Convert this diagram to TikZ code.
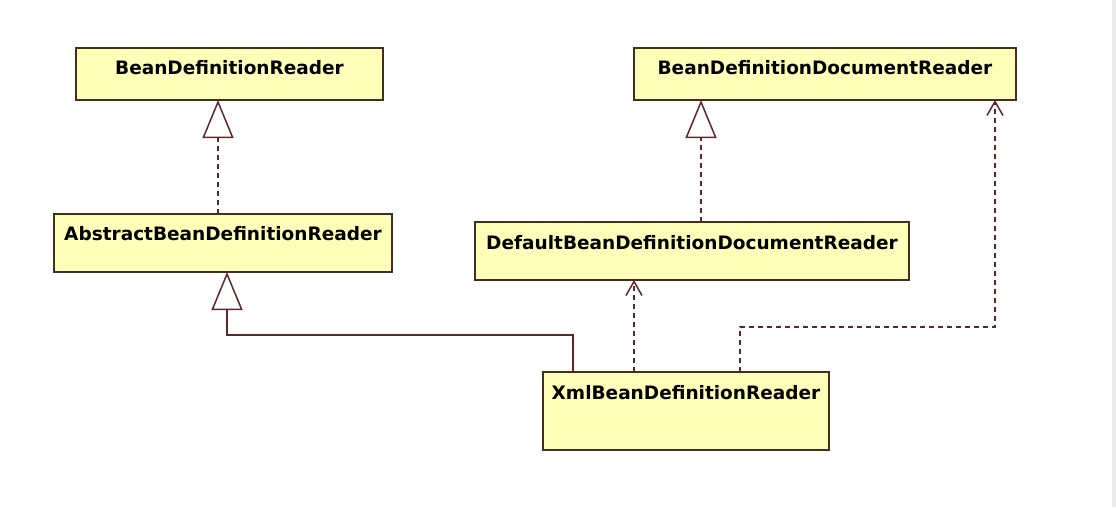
\documentclass[tikz,border=0pt]{standalone}
\usepackage{fontspec}
\setmainfont{DejaVu Sans}
\usepackage[dvipsnames]{xcolor}
\usepackage{tikz}
\usetikzlibrary{arrows.meta}
\definecolor{classfill}{RGB}{255,255,185}
\definecolor{classline}{RGB}{70,45,30}
\definecolor{linkline}{RGB}{95,40,40}

\begin{document}
\begin{tikzpicture}[x=1pt, y=-1pt,
            classbox/.style={draw=classline, fill=classfill, line width=2pt, inner sep=0pt, outer sep=0pt, anchor=north west, font=\fontsize{18.5}{20}\selectfont\bfseries},
            realize/.style={draw=linkline, line width=1.5pt, dash pattern=on 5pt off 4pt, -{Triangle[open, length=38pt, width=31pt, fill=white]}},
            inherit/.style={draw=linkline, line width=1.5pt, -{Triangle[open, length=38pt, width=31pt, fill=white]}},
            depend/.style={draw=linkline, line width=1.5pt, dash pattern=on 5pt off 4pt, -{Straight Barb[length=14pt, width=16pt]}}]
            \useasboundingbox (0,0) rectangle (1116,507);
            \fill[black!8] (1112,0) rectangle (1116,507);
            \node[classbox, minimum width=307pt, text height=26pt, text depth=26pt] (bdr) at (76,48) {BeanDefinitionReader};
            \node[classbox, minimum width=382pt, text height=26pt, text depth=26pt] (bddr) at (634,48) {BeanDefinitionDocumentReader};
            \node[classbox, minimum width=338pt, text height=26pt, text depth=32pt] (abdr) at (54,214) {AbstractBeanDefinitionReader};
            \node[classbox, minimum width=434pt, text height=27pt, text depth=31pt] (dbddr) at (475,222) {DefaultBeanDefinitionDocumentReader};
            \node[classbox, minimum width=286pt, text height=27pt, text depth=51pt] (xbdr) at (543,372) {XmlBeanDefinitionReader};
            \draw[realize] ([xshift=-5pt]abdr.north) -- ([xshift=-11.5pt]bdr.south);
            \draw[realize] ([xshift=9pt]dbddr.north) -- ([xshift=-124pt]bddr.south);
            \draw[inherit] ([xshift=30pt]xbdr.north west) -- ++(0pt,37pt) -| ([xshift=4pt]abdr.south);
            \draw[depend] ([xshift=-52pt]xbdr.north) -- ([xshift=-58pt]dbddr.south);
            \draw[depend] ([xshift=54pt]xbdr.north) -- ++(0pt,45pt) -| ([xshift=-21pt]bddr.south east);
        \end{tikzpicture}
\end{document}
